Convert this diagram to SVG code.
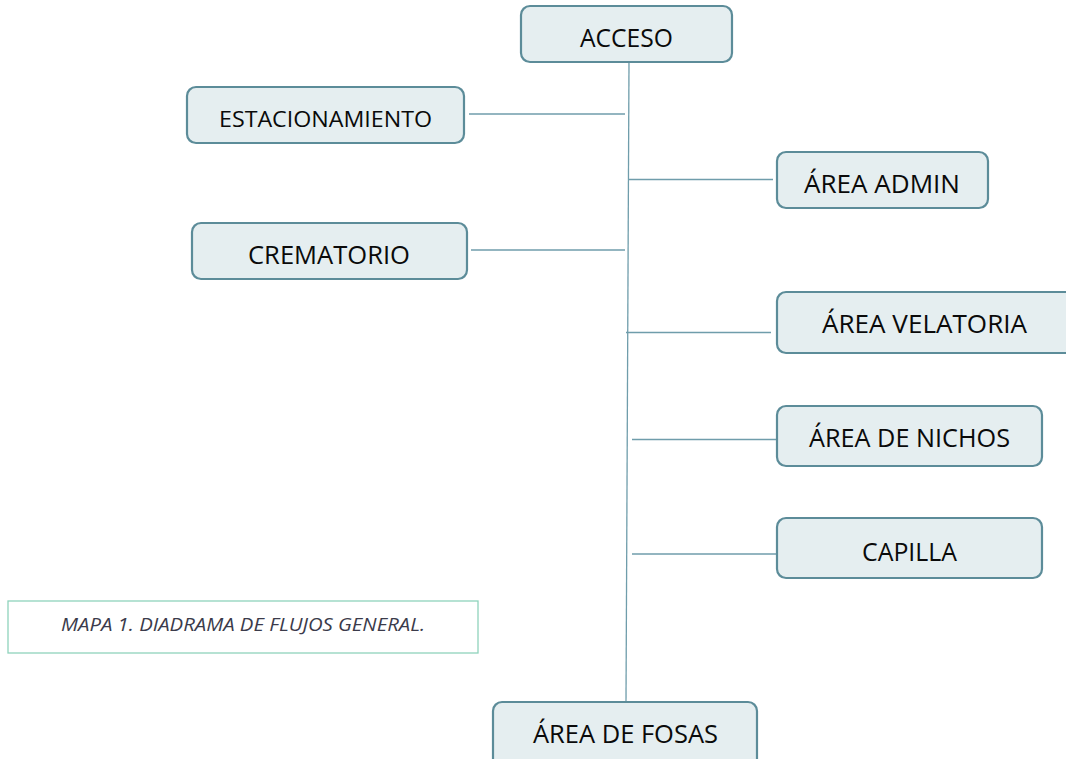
<svg xmlns="http://www.w3.org/2000/svg" width="1066" height="759" viewBox="0 0 1066 759">
<style>
.box{fill:#e5eef0;stroke:#5c8c99;stroke-width:2.2}
.lbl{font-family:"Open Sans","Liberation Sans",sans-serif;font-size:25.5px;fill:#0a0a0a;text-anchor:middle}
.small{font-size:22px}
.conn line{stroke:#6f9dab;stroke-width:1.3}
.cap{fill:#fff;stroke:#8fd3bc;stroke-width:1.3}
.captxt{font-family:"Open Sans","Liberation Sans",sans-serif;font-size:17.5px;font-style:italic;fill:#3b3b4b;text-anchor:middle}
</style>
<rect width="1066" height="759" fill="#fff"/>
<g class="conn" id="connectors">
<line x1="629" y1="62" x2="626" y2="702"/>
<line x1="469" y1="114" x2="625" y2="114"/>
<line x1="629" y1="179.5" x2="773" y2="179.5"/>
<line x1="471" y1="250" x2="625" y2="250"/>
<line x1="626" y1="332.5" x2="771" y2="332.5"/>
<line x1="632" y1="439.5" x2="777" y2="439.5"/>
<line x1="632" y1="554" x2="777" y2="554"/>
</g>
<g id="acceso"><rect class="box" x="521" y="6" width="211" height="56" rx="9"/><text class="lbl" x="626.5" y="47" textLength="93" lengthAdjust="spacingAndGlyphs">ACCESO</text></g>
<g id="estacionamiento"><rect class="box" x="187" y="87" width="277" height="56" rx="9"/><text class="lbl small" x="325.5" y="127" textLength="213" lengthAdjust="spacingAndGlyphs">ESTACIONAMIENTO</text></g>
<g id="area-admin"><rect class="box" x="777" y="152" width="211" height="56" rx="9"/><text class="lbl" x="882" y="193" textLength="156" lengthAdjust="spacingAndGlyphs">ÁREA ADMIN</text></g>
<g id="crematorio"><rect class="box" x="192" y="223" width="275" height="56" rx="9"/><text class="lbl" x="329" y="264" textLength="162" lengthAdjust="spacingAndGlyphs">CREMATORIO</text></g>
<g id="area-velatoria"><rect class="box" x="777" y="292" width="300" height="61" rx="9"/><text class="lbl" x="924.5" y="333" textLength="205" lengthAdjust="spacingAndGlyphs">ÁREA VELATORIA</text></g>
<g id="area-nichos"><rect class="box" x="777" y="406" width="265" height="60" rx="9"/><text class="lbl" x="909.5" y="447" textLength="201" lengthAdjust="spacingAndGlyphs">ÁREA DE NICHOS</text></g>
<g id="capilla"><rect class="box" x="777" y="518" width="265" height="60" rx="9"/><text class="lbl" x="909.5" y="561" textLength="95" lengthAdjust="spacingAndGlyphs">CAPILLA</text></g>
<g id="area-fosas"><rect class="box" x="493" y="702" width="264" height="70" rx="9"/><text class="lbl" x="625.5" y="743" textLength="185" lengthAdjust="spacingAndGlyphs">ÁREA DE FOSAS</text></g>
<g id="caption"><rect class="cap" x="8" y="601" width="470" height="52"/><text class="captxt" x="243" y="631" textLength="364" lengthAdjust="spacingAndGlyphs">MAPA 1. DIADRAMA DE FLUJOS GENERAL.</text></g>
</svg>
